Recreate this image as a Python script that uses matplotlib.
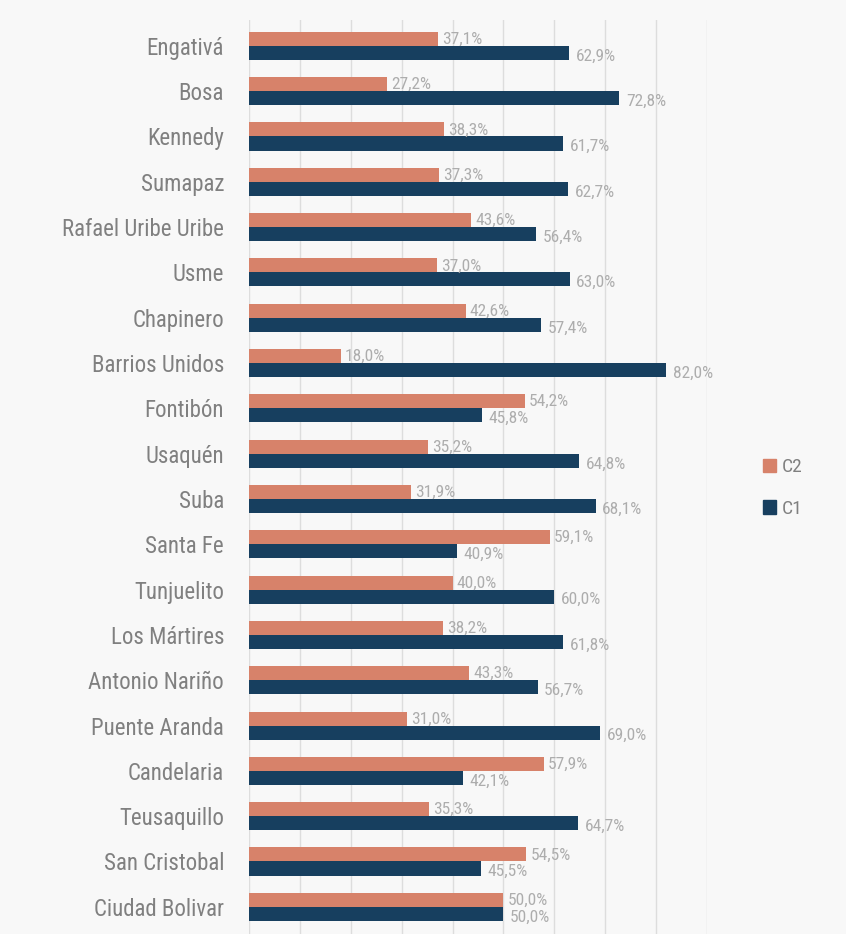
import matplotlib
matplotlib.use("Agg")
import matplotlib.pyplot as plt
from matplotlib import font_manager as fm
import numpy as np

categories = ["Engativá", "Bosa", "Kennedy", "Sumapaz", "Rafael Uribe Uribe", "Usme",
              "Chapinero", "Barrios Unidos", "Fontibón", "Usaquén", "Suba", "Santa Fe",
              "Tunjuelito", "Los Mártires", "Antonio Nariño", "Puente Aranda", "Candelaria",
              "Teusaquillo", "San Cristobal", "Ciudad Bolivar"]
c2 = [37.1, 27.2, 38.3, 37.3, 43.6, 37.0, 42.6, 18.0, 54.2, 35.2, 31.9, 59.1,
      40.0, 38.2, 43.3, 31.0, 57.9, 35.3, 54.5, 50.0]
c1 = [62.9, 72.8, 61.7, 62.7, 56.4, 63.0, 57.4, 82.0, 45.8, 64.8, 68.1, 40.9,
      60.0, 61.8, 56.7, 69.0, 42.1, 64.7, 45.5, 50.0]
series_names = ["C2", "C1"]

# pick a condensed font if available
names = {f.name for f in fm.fontManager.ttflist}
fam = "DejaVu Sans"
stretch = "normal"
for cand in ["Roboto Condensed", "Liberation Sans Narrow", "Open Sans Condensed"]:
    if cand in names:
        fam = cand
        break
else:
    if any(f.name == "DejaVu Sans" and f.stretch == "condensed" for f in fm.fontManager.ttflist):
        stretch = "condensed"

plt.rcParams["font.family"] = [fam, "DejaVu Sans"]
plt.rcParams["font.stretch"] = stretch

W, H = 846, 934
fig = plt.figure(figsize=(W / 100, H / 100), dpi=100, facecolor="#f8f8f8")
ax = fig.add_axes([249 / W, 0, (707 - 249) / W, (934 - 20) / H])
ax.set_facecolor("#f8f8f8")

col2 = "#d7826a"
col1 = "#173f5f"
y = np.arange(len(categories))
h = 0.31
ax.barh(y - h / 2, c2, height=h, color=col2, label=series_names[0], zorder=3)
ax.barh(y + h / 2, c1, height=h, color=col1, label=series_names[1], zorder=3)

lab_col = "#adadad"
for yi, v in zip(y, c2):
    ax.text(v + 0.8, yi - h / 2 + 0.01, f"{v:.1f}%".replace(".", ","), va="center", ha="left",
            fontsize=12.5, color=lab_col, zorder=4)
for yi, v in zip(y, c1):
    ax.text(v + 1.3, yi + h / 2 + 0.07, f"{v:.1f}%".replace(".", ","), va="center", ha="left",
            fontsize=12.5, color=lab_col, zorder=4)

ax.set_xlim(0, 90)
ax.set_ylim(len(categories) - 0.4, -0.57)
ax.set_xticks(np.arange(0, 91, 10))
ax.set_xticklabels([])
ax.tick_params(axis="x", length=0)
ax.grid(axis="x", color="#dddddd", linewidth=1, zorder=0)
ax.set_yticks(y)
ax.set_yticklabels(categories, fontsize=16.5, color="#808080")
ax.tick_params(axis="y", length=0, pad=18)
for s in ax.spines.values():
    s.set_visible(False)

handles = [plt.Rectangle((0, 0), 1, 1, color=col2), plt.Rectangle((0, 0), 1, 1, color=col1)]
fig.legend(handles, series_names, loc="center left", bbox_to_anchor=(745 / W, 1 - 488 / H),
           frameon=False, fontsize=14, handlelength=0.7, handleheight=0.7, handletextpad=0.3,
           labelspacing=1.2, labelcolor="#808080")

fig.savefig("out.png", dpi=100, facecolor=fig.get_facecolor())
